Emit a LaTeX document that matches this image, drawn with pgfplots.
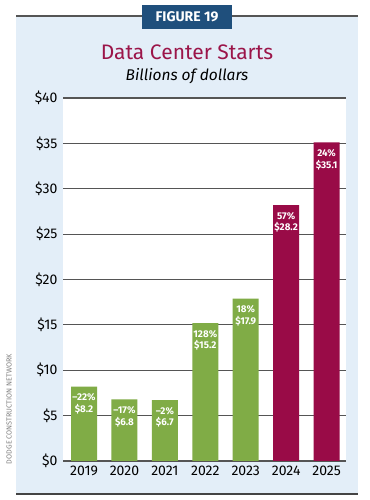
\documentclass[border=0pt]{standalone}
\usepackage{pgfplots}
\pgfplotsset{compat=1.18}
\usepackage{fontspec}
\setmainfont{Fira Sans}
\definecolor{panelblue}{HTML}{E3EEF8}
\definecolor{figblue}{HTML}{1F4F7C}
\definecolor{titlered}{HTML}{9B1549}
\definecolor{bargreen}{HTML}{80AC46}
\definecolor{barred}{HTML}{990B47}
\definecolor{gridgray}{HTML}{555555}
\begin{document}
\begin{tikzpicture}[x=1pt,y=1pt]
\useasboundingbox (0,0) rectangle (369,500);
\fill[panelblue] (16,6) rectangle (358,484);
\draw[gridgray, line width=1.5pt] (16,484) -- (358,484);
\draw[gridgray!80!black, line width=1.5pt] (16,6) -- (358,6);
\node[fill=figblue, text=white, font=\fontsize{14}{16}\selectfont\bfseries, minimum width=90pt, minimum height=24pt, inner sep=0pt] at (187,483) {FIGURE 19};
\node[text=titlered, font=\fontsize{21}{24}\selectfont] at (187,448) {Data Center Starts};
\node[font=\fontsize{15.5}{18}\selectfont\itshape] at (187,424) {Billions of dollars};
\node[rotate=90, text=gray, font=\fontsize{7.3}{8}\selectfont] at (9,91) {DODGE CONSTRUCTION NETWORK};
\begin{axis}[
  at={(63pt,39pt)}, anchor=south west,
  scale only axis, width=283pt, height=363pt,
  xmin=-0.52, xmax=6.48, ymin=0, ymax=40,
  axis background/.style={fill=white},
  axis line style={draw=none},
  major tick length=0pt,
  ymajorgrids, grid style={line width=1.2pt, gridgray},
  ytick={0,5,...,40},
  yticklabels={\$0,\$5,\$10,\$15,\$20,\$25,\$30,\$35,\$40},
  xtick={0,...,6},
  xticklabels={2019,2020,2021,2022,2023,2024,2025},
  ticklabel style={font=\fontsize{14}{16}\selectfont},
  yticklabel style={xshift=-2pt},
  xticklabel style={yshift=-1pt},
  clip=false,
]
\addplot[ybar, bar width=26pt, fill=bargreen, draw=none] coordinates {(0,8.2) (1,6.8) (2,6.7) (3,15.2) (4,17.9)};
\addplot[ybar, bar width=26pt, fill=barred, draw=none] coordinates {(5,28.2) (6,35.1)};
\tikzset{barlbl/.style={text=white, font=\fontsize{9.8}{11.5}\selectfont\bfseries, align=center, anchor=north, inner sep=0pt}}
\node[barlbl] at (axis cs:0,8.2) [yshift=-7pt] {–22\%\\\$8.2};
\node[barlbl] at (axis cs:1,6.8) [yshift=-7pt] {–17\%\\\$6.8};
\node[barlbl] at (axis cs:2,6.7) [yshift=-7pt] {–2\%\\\$6.7};
\node[barlbl] at (axis cs:3,15.2) [yshift=-7pt] {128\%\\\$15.2};
\node[barlbl] at (axis cs:4,17.9) [yshift=-7pt] {18\%\\\$17.9};
\node[barlbl] at (axis cs:5,28.2) [yshift=-7pt] {57\%\\\$28.2};
\node[barlbl] at (axis cs:6,35.1) [yshift=-7pt] {24\%\\\$35.1};
\end{axis}
\end{tikzpicture}
\end{document}
